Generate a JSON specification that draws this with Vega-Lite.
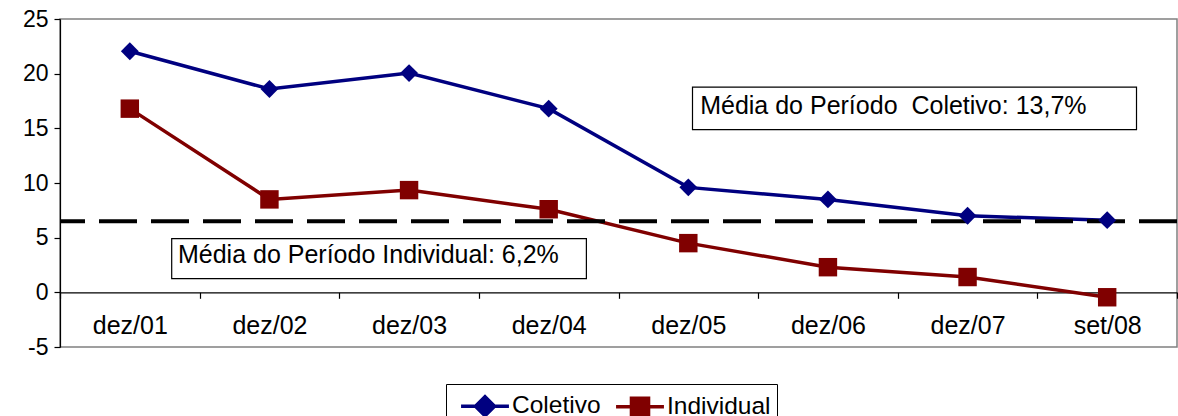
{
  "$schema": "https://vega.github.io/schema/vega-lite/v6.json",
  "width": 1117,
  "height": 328,
  "autosize": {"type": "none"},
  "padding": {"left": 60, "top": 19, "right": 1, "bottom": 69},
  "background": "white",
  "config": {
    "view": {"stroke": "#808080", "strokeWidth": 1.5},
    "font": "Liberation Sans",
    "axis": {"labelFont": "Liberation Sans", "labelColor": "black", "domainColor": "black", "tickColor": "black", "grid": false, "domainWidth": 1.2, "tickWidth": 1.2}
  },
  "datasets": {
    "series": [
      {"period": "dez/01", "series": "Coletivo", "value": 22.05},
      {"period": "dez/02", "series": "Coletivo", "value": 18.6},
      {"period": "dez/03", "series": "Coletivo", "value": 20.05},
      {"period": "dez/04", "series": "Coletivo", "value": 16.8},
      {"period": "dez/05", "series": "Coletivo", "value": 9.6},
      {"period": "dez/06", "series": "Coletivo", "value": 8.5},
      {"period": "dez/07", "series": "Coletivo", "value": 7.0},
      {"period": "set/08", "series": "Coletivo", "value": 6.6},
      {"period": "dez/01", "series": "Individual", "value": 16.8},
      {"period": "dez/02", "series": "Individual", "value": 8.5},
      {"period": "dez/03", "series": "Individual", "value": 9.35},
      {"period": "dez/04", "series": "Individual", "value": 7.6},
      {"period": "dez/05", "series": "Individual", "value": 4.5},
      {"period": "dez/06", "series": "Individual", "value": 2.3},
      {"period": "dez/07", "series": "Individual", "value": 1.4},
      {"period": "set/08", "series": "Individual", "value": -0.45}
    ],
    "boxes": [
      {"xpos": 4.53, "xpos2": 7.71, "value": 18.76, "value2": 14.89},
      {"xpos": 0.8, "xpos2": 3.77, "value": 4.91, "value2": 1.25}
    ],
    "notes": [
      {"label": "Média do Período\u00a0 Coletivo: 13,7%", "xpos": 4.585, "value": 17.0},
      {"label": "Média do Período Individual: 6,2%", "xpos": 0.845, "value": 3.45}
    ],
    "avg": [{"value": 6.5}]
  },
  "encoding": {
    "y": {
      "field": "value",
      "type": "quantitative",
      "scale": {"domain": [-5, 25], "nice": false, "zero": false},
      "axis": {"values": [-5, 0, 5, 10, 15, 20, 25], "labelExpr": "toString(datum.value)", "title": null, "tickSize": 6, "labelPadding": 6, "labelFontSize": 23}
    }
  },
  "layer": [
    {
      "data": {"name": "boxes"},
      "mark": {"type": "rect", "fill": "white", "stroke": "black", "strokeWidth": 1.2},
      "encoding": {
        "x": {"field": "xpos", "type": "quantitative", "scale": {"domain": [0, 8], "nice": false, "zero": false}, "axis": null},
        "x2": {"field": "xpos2"},
        "y2": {"field": "value2"}
      }
    },
    {
      "data": {"name": "notes"},
      "mark": {"type": "text", "align": "left", "baseline": "middle", "fontSize": 25, "font": "Liberation Sans", "color": "black"},
      "encoding": {
        "x": {"field": "xpos", "type": "quantitative", "scale": {"domain": [0, 8], "nice": false, "zero": false}, "axis": null},
        "text": {"field": "label"}
      }
    },
    {
      "data": {"name": "series"},
      "mark": {"type": "line", "strokeWidth": 3.5},
      "encoding": {
        "x": {
          "field": "period",
          "type": "ordinal",
          "sort": null,
          "scale": {"type": "band", "paddingInner": 0, "paddingOuter": 0},
          "axis": {"orient": "bottom", "offset": -54.7, "tickBand": "extent", "tickSize": 6, "labelPadding": 15, "labelFontSize": 25, "labelAngle": 0, "title": null}
        },
        "color": {
          "field": "series",
          "type": "nominal",
          "scale": {"domain": ["Coletivo", "Individual"], "range": ["#000080", "#800000"]},
          "legend": {
            "orient": "none",
            "legendX": 386,
            "legendY": 365,
            "direction": "horizontal",
            "title": null,
            "strokeColor": "black",
            "fillColor": "white",
            "padding": 6,
            "labelFontSize": 24.5,
            "labelFont": "Liberation Sans",
            "labelColor": "black",
            "symbolSize": 784,
            "symbolOffset": 17,
            "symbolStrokeWidth": 3.5,
            "columnPadding": 6,
            "labelOffset": 11,
            "encode": {
              "symbols": {
                "update": {
                  "shape": {"signal": "datum.value === 'Coletivo' ? 'M-1.71,0L1.71,0M0,-0.68L0.68,0L0,0.68L-0.68,0Z' : 'M-1.71,0L1.71,0M-0.61,-0.61L0.61,-0.61L0.61,0.61L-0.61,0.61Z'"},
                  "fill": {"signal": "datum.value === 'Coletivo' ? '#000080' : '#800000'"},
                  "fillOpacity": {"value": 1},
                  "strokeWidth": {"value": 3.5}
                }
              }
            }
          }
        }
      }
    },
    {
      "data": {"name": "avg"},
      "mark": {"type": "rule", "color": "black", "strokeWidth": 4, "strokeDash": [38, 14]},
      "encoding": {}
    },
    {
      "data": {"name": "series"},
      "transform": [{"filter": "datum.series === 'Coletivo'"}],
      "mark": {"type": "point", "filled": true, "opacity": 1, "size": 320, "shape": "diamond", "color": "#000080"},
      "encoding": {
        "x": {
          "field": "period",
          "type": "ordinal",
          "sort": null,
          "scale": {"type": "band", "paddingInner": 0, "paddingOuter": 0},
          "axis": null
        }
      }
    },
    {
      "data": {"name": "series"},
      "transform": [{"filter": "datum.series === 'Individual'"}],
      "mark": {"type": "point", "filled": true, "opacity": 1, "size": 340, "shape": "square", "color": "#800000"},
      "encoding": {
        "x": {
          "field": "period",
          "type": "ordinal",
          "sort": null,
          "scale": {"type": "band", "paddingInner": 0, "paddingOuter": 0},
          "axis": null
        }
      }
    }
  ],
  "resolve": {"scale": {"x": "independent"}}
}
